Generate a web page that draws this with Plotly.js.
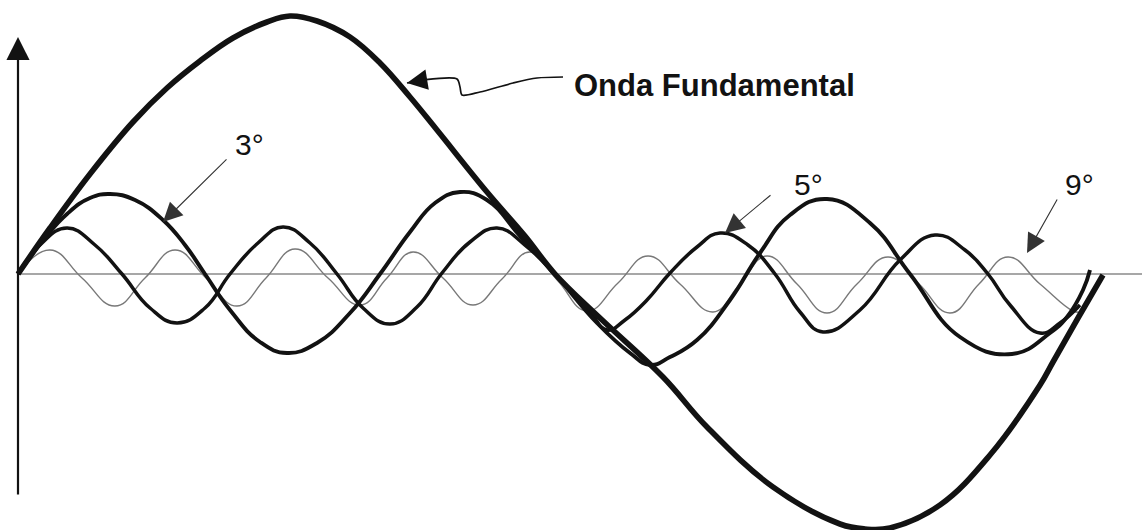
<!DOCTYPE html>
<html>
<head>
<meta charset="utf-8">
<script src="https://cdn.plot.ly/plotly-3.0.1.min.js"></script>
<style>
html,body{margin:0;padding:0;background:#ffffff;}
#chart{width:1142px;height:530px;}
</style>
</head>
<body>
<div id="chart"></div>
<script>
// Time axis in arbitrary units (one fundamental period ≈ 1085), amplitude in arbitrary units (fundamental peak ≈ 258)
const fundX = [0,32,72,115,149,182,215,249,272,299,332,362,392,419,469,507,537,582,645,689,755,822,847,872,922,972,1022,1035,1060,1085];
const fundY = [0,46,100,152,186,213,236,252,258,253,237,211,177,144,82,38,0,-44,-103,-153,-213,-250,-255,-254,-231,-181,-111,-88,-44,-1];

const h3X = [0,27,49,72,92,117,145,167,187,212,242,269,299,332,362,392,417,442,469,502,537,579,612,632,652,679,712,742,772,809,852,892,942,994,1032,1049,1065,1072];
const h3Y = [0,36,60,76,80,74,54,29,0,-36,-68,-79,-69,-39,0,42,71,82,74,38,0,-49,-79,-91,-83,-66,-26,21,59,75,51,0,-63,-80,-59,-43,-16,4];

const h5X = [0,22,49,77,104,132,159,187,212,240,265,292,319,345,372,399,424,452,479,507,542,572,589,607,629,652,679,702,730,757,782,805,842,882,917,947,970,992,1022,1042,1062];
const h5Y = [0,29,46,29,0,-34,-49,-34,0,31,47,31,0,-34,-50,-33,1,32,46,29,-6,-38,-56,-46,-26,1,27,41,29,0,-38,-58,-36,14,39,24,0,-31,-59,-49,-31];

const h9X = [0,32,64,97,127,157,188,219,248,277,310,342,369,395,425,455,484,512,540,569,600,630,662,695,722,749,779,809,839,870,901,932,961,990,1022,1055,1062];
const h9Y = [0,24,-4,-32,-4,24,-4,-32,-4,25,-4,-31,-4,22,-4,-31,-5,22,-7,-37,-9,18,-10,-38,-10,18,-10,-39,-10,17,-10,-39,-10,17,-10,-37,-38];

// leader line of the "Onda Fundamental" callout
const leaderX = [545,519,495,462,444,442,439,405,389];
const leaderY = [197,196,191,182,179,187,195,194,191];

const labelTexts = ['Onda Fundamental','3°','5°','9°'];

const ink = '#121212';
const traces = [
  {x:h9X, y:h9Y, mode:'lines', line:{color:'#787878', width:1.4, shape:'spline', smoothing:1.3}, hoverinfo:'skip'},
  {x:h5X, y:h5Y, mode:'lines', line:{color:ink, width:3.5, shape:'spline', smoothing:1.3}, hoverinfo:'skip'},
  {x:h3X, y:h3Y, mode:'lines', line:{color:ink, width:3.9, shape:'spline', smoothing:1.3}, hoverinfo:'skip'},
  {x:fundX, y:fundY, mode:'lines', line:{color:ink, width:5.6, shape:'spline', smoothing:1.1}, hoverinfo:'skip'},
  {x:leaderX, y:leaderY, mode:'lines', line:{color:ink, width:1.7, shape:'spline', smoothing:0.8}, hoverinfo:'skip'}
];

const font = 'Liberation Sans, Arial, Helvetica, sans-serif';
const arrow = (x, y, ax, ay, w, s, col) => ({
  x:x, y:y, ax:ax, ay:ay, xref:'x', yref:'y', axref:'x', ayref:'y',
  text:'', showarrow:true, arrowhead:2, arrowwidth:w, arrowsize:s, arrowcolor:col, standoff:0
});

const annotations = [
  // vertical axis
  arrow(0, 237, 0, -222, 2.2, 2.1, ink),
  // callout arrows
  arrow(389, 191, 407, 194, 1.7, 2.4, ink),
  arrow(145, 52, 210, 116, 1.1, 3.5, '#333'),
  arrow(707, 41, 754, 80, 1.1, 3.5, '#333'),
  arrow(1009, 21, 1040, 76, 1.1, 3.5, '#333'),
  {x:554, y:188.5, xref:'x', yref:'y', text:'<b>'+labelTexts[0]+'</b>', showarrow:false, xanchor:'left', yanchor:'middle', font:{family:font, size:31, color:ink}},
  {x:231, y:130, xref:'x', yref:'y', text:labelTexts[1], showarrow:false, xanchor:'center', yanchor:'middle', font:{family:font, size:30, color:ink}},
  {x:790, y:90, xref:'x', yref:'y', text:labelTexts[2], showarrow:false, xanchor:'center', yanchor:'middle', font:{family:font, size:30, color:ink}},
  {x:1061, y:90, xref:'x', yref:'y', text:labelTexts[3], showarrow:false, xanchor:'center', yanchor:'middle', font:{family:font, size:30, color:ink}}
];

const layout = {
  width:1142, height:530,
  margin:{l:0, r:0, t:0, b:0, pad:0},
  paper_bgcolor:'#ffffff', plot_bgcolor:'#ffffff',
  showlegend:false,
  xaxis:{range:[-18,1124], visible:false, fixedrange:true},
  yaxis:{range:[-256,274], visible:false, fixedrange:true},
  shapes:[{type:'line', xref:'x', yref:'y', x0:0, x1:1124, y0:0, y1:0, line:{color:'#8a8a8a', width:1.6}, layer:'below'}],
  annotations:annotations
};

Plotly.newPlot('chart', traces, layout, {displayModeBar:false, staticPlot:true});
</script>
</body>
</html>
